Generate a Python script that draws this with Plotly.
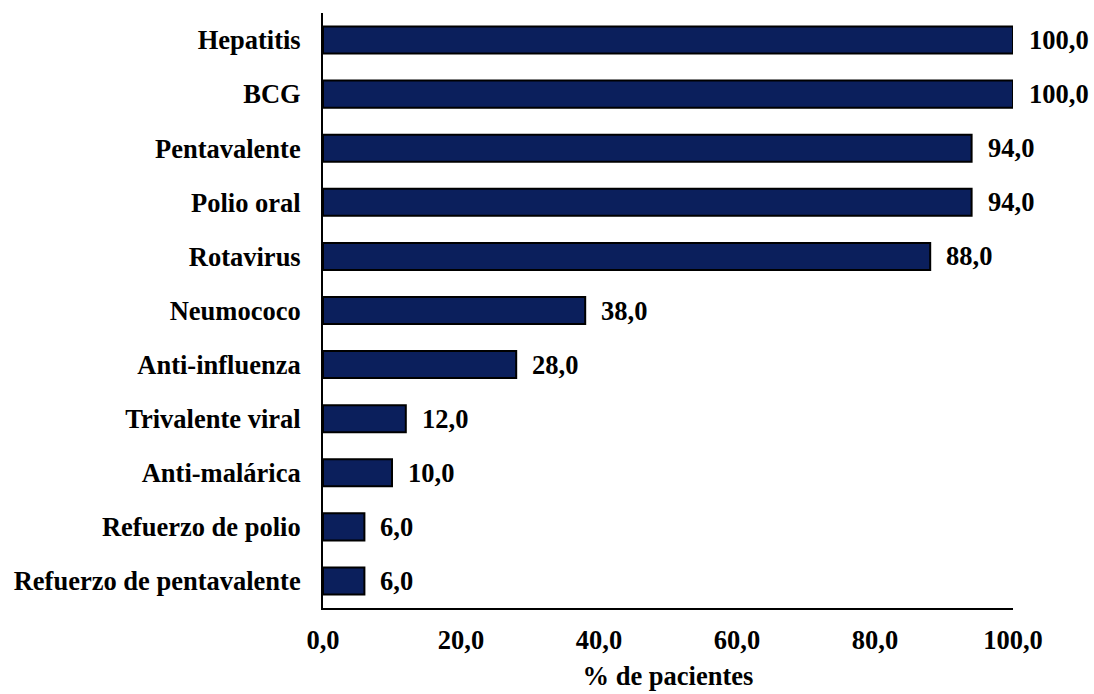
import plotly.graph_objects as go

# Vaccination coverage by vaccine (% of patients)
vacunas = [
    "Hepatitis", "BCG", "Pentavalente", "Polio oral", "Rotavirus",
    "Neumococo", "Anti-influenza", "Trivalente viral", "Anti-malárica",
    "Refuerzo de polio", "Refuerzo de pentavalente",
]
porcentajes = [100.0, 100.0, 94.0, 94.0, 88.0, 38.0, 28.0, 12.0, 10.0, 6.0, 6.0]
ticks_x = [0, 20, 40, 60, 80, 100]

FONT = "Liberation Serif"
SIZE = 26.5
BOLD = dict(family=FONT, size=SIZE, color="#000000", weight="bold")

fig = go.Figure(go.Bar(
    y=vacunas,
    x=porcentajes,
    orientation="h",
    marker=dict(color="#0b1f5c", line=dict(color="#000000", width=2)),
    width=0.5,
    hoverinfo="x+y",
))

# value labels to the right of each bar, decimal comma
for cat, val in zip(vacunas, porcentajes):
    fig.add_annotation(
        x=val, y=cat, xref="x", yref="y",
        text=f"{val:.1f}".replace(".", ","),
        showarrow=False, xanchor="left", xshift=14,
        font=BOLD,
    )

fig.update_layout(
    width=1094, height=694,
    margin=dict(l=323, r=81, t=13, b=86),
    plot_bgcolor="white", paper_bgcolor="white",
    separators=",.",
    showlegend=False,
    font=BOLD,
    xaxis=dict(
        range=[0, 100], tickvals=ticks_x, tickformat=".1f",
        showgrid=False, zeroline=False, automargin=False,
        showline=True, linecolor="#000000", linewidth=2,
        ticks="", ticklabelstandoff=7,
        tickfont=BOLD,
        title=dict(text="% de pacientes", standoff=13, font=BOLD),
    ),
    yaxis=dict(
        autorange=False, range=[10.5, -0.5],
        categoryorder="array", categoryarray=vacunas,
        showgrid=False, zeroline=False, automargin=False,
        showline=True, linecolor="#000000", linewidth=2,
        ticks="", ticklabelstandoff=15,
        tickfont=BOLD,
    ),
)

fig.write_html("out.html")
